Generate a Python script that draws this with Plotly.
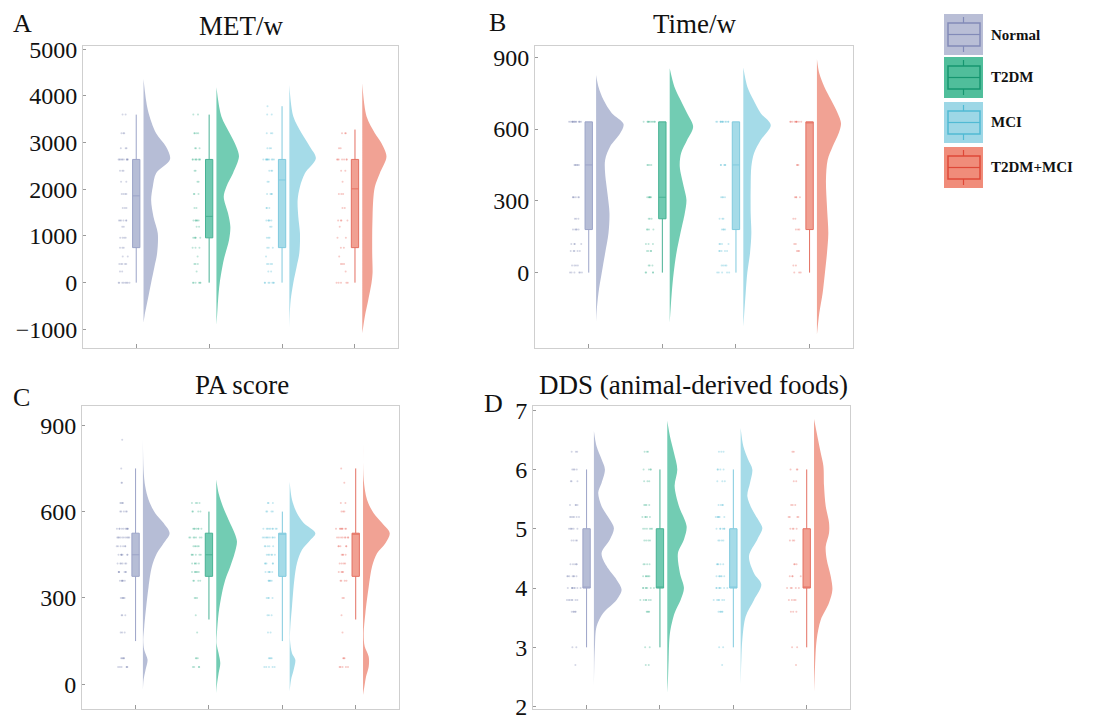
import numpy as np
import plotly.graph_objects as go

W, H = 1099, 720
groups = ["Normal", "T2DM", "MCI", "T2DM+MCI"]
positions = [1, 2, 3, 4]

# ---------------- colours ----------------
violin_fill = ["rgb(182,189,214)", "rgb(114,204,179)", "rgb(165,219,232)", "rgb(241,162,148)"]
box_fill = ["rgb(182,189,214)", "rgb(112,202,177)", "rgb(165,219,232)", "rgb(241,160,146)"]
box_line = ["rgb(156,164,200)", "rgb(72,178,148)", "rgb(128,202,222)", "rgb(228,112,98)"]
dot_color = ["rgb(110,120,170)", "rgb(40,168,130)", "rgb(70,182,210)", "rgb(228,80,70)"]
legend_bg = ["rgb(185,190,214)", "rgb(80,190,155)", "rgb(157,215,230)", "rgb(240,140,122)"]
legend_line = ["rgb(130,138,184)", "rgb(22,150,112)", "rgb(80,186,212)", "rgb(222,72,56)"]

# ---------------- panel A : MET/w ----------------
met_q1 = [750, 960, 750, 750]
met_median = [1860, 1420, 2200, 2010]
met_q3 = [2640, 2640, 2640, 2640]
met_low = [0, 0, 0, 0]
met_high = [3600, 3600, 3780, 3280]

met_vy_normal = [4364, 3700, 3200, 2914, 2643, 2343, 2057, 1771, 1414, 1057, 629, 343, 0, -357, -714, -857]
met_vw_normal = [0, 13, 38, 68, 80, 38, 28, 23, 30, 43, 41, 33, 23, 13, 3, 0]
met_vy_t2dm = [4186, 3557, 3200, 2914, 2700, 2343, 2057, 1843, 1486, 1200, 914, 486, 0, -371, -700, -907]
met_vw_t2dm = [0, 15, 40, 60, 68, 50, 30, 22, 35, 42, 38, 22, 10, 5, 2, 0]
met_vy_mci = [4236, 3557, 3200, 2914, 2664, 2343, 2057, 1771, 1414, 1057, 629, 343, 0, -371, -714, -979]
met_vw_mci = [0, 12, 37, 62, 80, 47, 32, 25, 27, 32, 30, 22, 12, 4, 1, 0]
met_vy_both = [4271, 3557, 3200, 2986, 2700, 2343, 2057, 1771, 1414, 1057, 629, 200, 0, -371, -714, -1086]
met_vw_both = [0, 13, 38, 58, 73, 53, 38, 33, 31, 30, 30, 31, 28, 18, 8, 0]

met_levels = [0, 240, 400, 560, 750, 960, 1200, 1330, 1600, 1900, 2160, 2400, 2640, 2880, 3200, 3600, 3780]
met_counts_normal = [8, 2, 5, 2, 3, 4, 2, 6, 3, 4, 2, 3, 10, 3, 3, 2, 0]
met_counts_t2dm = [6, 1, 3, 1, 3, 5, 2, 6, 2, 3, 2, 2, 8, 3, 4, 2, 0]
met_counts_mci = [7, 2, 4, 1, 3, 3, 2, 5, 3, 4, 2, 3, 10, 3, 3, 2, 1]
met_counts_both = [5, 1, 3, 1, 2, 2, 1, 4, 2, 3, 1, 2, 7, 2, 3, 0, 0]

# ---------------- panel B : Time/w ----------------
time_q1 = [180, 225, 180, 180]
time_median = [450, 315, 450, 630]
time_q3 = [630, 630, 630, 630]
time_low = [0, 0, 0, 0]
time_high = [630, 630, 630, 630]

time_vy_normal = [826, 777, 722, 666, 621, 582, 527, 471, 415, 331, 248, 164, 81, 0, -86, -156, -205]
time_vw_normal = [0, 7, 22, 47, 82, 72, 42, 27, 27, 34, 40, 37, 27, 17, 7, 2, 0]
time_vy_t2dm = [854, 777, 722, 666, 610, 554, 499, 443, 359, 304, 248, 164, 81, 0, -86, -209]
time_vw_t2dm = [0, 14, 32, 52, 70, 52, 34, 30, 42, 50, 45, 32, 20, 12, 6, 0]
time_vy_mci = [857, 777, 722, 666, 617, 554, 499, 443, 359, 248, 164, 81, 0, -86, -226]
time_vw_mci = [0, 12, 30, 52, 82, 52, 32, 24, 22, 22, 24, 20, 12, 7, 0]
time_vy_both = [892, 833, 777, 722, 666, 624, 582, 527, 471, 387, 276, 164, 81, 0, -86, -170, -260]
time_vw_both = [0, 7, 22, 42, 62, 72, 65, 47, 32, 27, 30, 34, 30, 24, 17, 7, 0]

time_levels = [0, 30, 90, 120, 180, 225, 315, 450, 630]
time_counts_normal = [6, 4, 5, 4, 5, 3, 6, 6, 14]
time_counts_t2dm = [4, 3, 4, 3, 4, 3, 6, 4, 10]
time_counts_mci = [5, 4, 5, 4, 4, 3, 4, 5, 12]
time_counts_both = [3, 2, 3, 2, 3, 2, 4, 3, 10]

# ---------------- panel C : PA score ----------------
pa_q1 = [375, 375, 375, 375]
pa_median = [450, 450, 525, 525]
pa_q3 = [525, 525, 525, 525]
pa_low = [150, 225, 150, 225]
pa_high = [750, 600, 600, 750]

pa_vy_normal = [852, 745, 687, 641, 594, 560, 525, 490, 455, 409, 339, 270, 200, 154, 119, 85, 50, 15, -20]
pa_vw_normal = [0, 2, 7, 17, 37, 62, 80, 62, 42, 27, 17, 10, 4, 1, 4, 14, 8, 2, 0]
pa_vy_t2dm = [712, 664, 617, 571, 525, 496, 455, 409, 363, 316, 247, 177, 142, 108, 73, 38, -2, -31]
pa_vw_t2dm = [0, 7, 20, 37, 55, 62, 55, 42, 27, 17, 7, 2, 1, 7, 12, 7, 2, 0]
pa_vy_mci = [704, 641, 594, 560, 525, 501, 467, 421, 363, 270, 200, 154, 108, 85, 50, 15, -25]
pa_vw_mci = [0, 7, 22, 42, 77, 62, 37, 22, 14, 7, 2, 1, 7, 17, 12, 4, 0]
pa_vy_both = [837, 710, 641, 594, 560, 525, 490, 455, 409, 339, 247, 177, 131, 96, 61, 27, -8, -37]
pa_vw_both = [0, 2, 12, 32, 57, 80, 67, 42, 27, 17, 7, 2, 5, 17, 17, 9, 4, 0]

pa_levels = [60, 90, 180, 240, 300, 360, 390, 420, 450, 480, 510, 540, 600, 630, 700, 750, 850]
pa_counts_normal = [6, 5, 3, 3, 5, 6, 6, 6, 7, 6, 10, 10, 5, 4, 2, 1, 1]
pa_counts_t2dm = [4, 3, 1, 1, 3, 4, 6, 5, 6, 5, 7, 7, 4, 4, 0, 0, 0]
pa_counts_mci = [5, 4, 2, 3, 4, 5, 5, 5, 6, 5, 9, 9, 4, 3, 0, 0, 0]
pa_counts_both = [5, 3, 1, 1, 2, 4, 4, 4, 4, 5, 8, 8, 3, 2, 1, 1, 0]

# ---------------- panel D : DDS (animal-derived foods) ----------------
dds_q1 = [4, 4, 4, 4]
dds_median = [4, 4, 4, 4]
dds_q3 = [5, 5, 5, 5]
dds_low = [3, 3, 3, 3]
dds_high = [6, 6, 6, 6]

dds_vy_normal = [6.65, 6.39, 6.17, 6.0, 5.77, 5.61, 5.38, 5.15, 5.01, 4.82, 4.59, 4.37, 4.14, 3.97, 3.80, 3.58, 3.35, 3.01, 2.68, 2.34]
dds_vw_normal = [0, 8, 23, 33, 23, 13, 23, 48, 60, 48, 23, 38, 68, 83, 68, 28, 8, 3, 1, 0]
dds_vy_t2dm = [6.82, 6.56, 6.28, 6.0, 5.72, 5.38, 5.04, 4.82, 4.59, 4.25, 4.0, 3.80, 3.58, 3.24, 2.79, 2.45, 2.23]
dds_vw_t2dm = [0, 8, 20, 30, 22, 35, 58, 50, 32, 38, 50, 40, 22, 8, 4, 2, 0]
dds_vy_mci = [6.70, 6.39, 6.17, 6.0, 5.77, 5.55, 5.32, 5.10, 5.01, 4.82, 4.54, 4.25, 4.06, 3.80, 3.52, 3.13, 2.79, 2.37]
dds_vw_mci = [0, 8, 22, 35, 28, 20, 35, 58, 65, 50, 25, 40, 62, 40, 15, 5, 2, 0]
dds_vy_both = [6.85, 6.56, 6.28, 6.06, 5.72, 5.38, 5.10, 4.93, 4.70, 4.48, 4.20, 3.97, 3.75, 3.46, 3.13, 2.68, 2.25]
dds_vw_both = [0, 10, 20, 28, 30, 35, 45, 45, 35, 38, 50, 55, 45, 20, 8, 3, 0]

dds_levels = [2.7, 3.0, 3.6, 3.8, 4.0, 4.2, 4.4, 4.8, 5.0, 5.2, 5.4, 5.8, 6.0, 6.3]
dds_counts_normal = [1, 2, 5, 7, 8, 7, 5, 4, 6, 6, 4, 3, 4, 3]
dds_counts_t2dm = [2, 2, 4, 6, 7, 6, 4, 4, 6, 5, 4, 3, 4, 3]
dds_counts_mci = [1, 2, 5, 6, 7, 6, 5, 4, 6, 6, 4, 3, 4, 3]
dds_counts_both = [1, 2, 3, 4, 5, 4, 3, 3, 4, 4, 3, 2, 3, 2]

# ---------------- layout constants ----------------
VIOLIN_OFFSET = 0.10
VIOLIN_SCALE = 1 / 220.0
BOX_WIDTH = 0.10
DOT_OFFSET = -0.17
DOT_WIDTH = 0.2
SERIF = "Liberation Serif, Times New Roman, serif"

panels = [
    dict(key="A", title="MET/w", xa="x", ya="y",
         q1=met_q1, med=met_median, q3=met_q3, lo=met_low, hi=met_high,
         vy=[met_vy_normal, met_vy_t2dm, met_vy_mci, met_vy_both],
         vw=[met_vw_normal, met_vw_t2dm, met_vw_mci, met_vw_both],
         levels=met_levels, counts=[met_counts_normal, met_counts_t2dm, met_counts_mci, met_counts_both]),
    dict(key="B", title="Time/w", xa="x2", ya="y2",
         q1=time_q1, med=time_median, q3=time_q3, lo=time_low, hi=time_high,
         vy=[time_vy_normal, time_vy_t2dm, time_vy_mci, time_vy_both],
         vw=[time_vw_normal, time_vw_t2dm, time_vw_mci, time_vw_both],
         levels=time_levels, counts=[time_counts_normal, time_counts_t2dm, time_counts_mci, time_counts_both]),
    dict(key="C", title="PA score", xa="x3", ya="y3",
         q1=pa_q1, med=pa_median, q3=pa_q3, lo=pa_low, hi=pa_high,
         vy=[pa_vy_normal, pa_vy_t2dm, pa_vy_mci, pa_vy_both],
         vw=[pa_vw_normal, pa_vw_t2dm, pa_vw_mci, pa_vw_both],
         levels=pa_levels, counts=[pa_counts_normal, pa_counts_t2dm, pa_counts_mci, pa_counts_both]),
    dict(key="D", title="DDS (animal-derived foods)", xa="x4", ya="y4",
         q1=dds_q1, med=dds_median, q3=dds_q3, lo=dds_low, hi=dds_high,
         vy=[dds_vy_normal, dds_vy_t2dm, dds_vy_mci, dds_vy_both],
         vw=[dds_vw_normal, dds_vw_t2dm, dds_vw_mci, dds_vw_both],
         levels=dds_levels, counts=[dds_counts_normal, dds_counts_t2dm, dds_counts_mci, dds_counts_both]),
]

fig = go.Figure()

for p in panels:
    for i, pos in enumerate(positions):
        # jittered raw points (library jitter)
        vals = np.repeat(p["levels"], p["counts"][i])
        fig.add_trace(go.Box(
            x=[pos + DOT_OFFSET] * len(vals), y=vals, boxpoints="all", jitter=1, pointpos=0,
            width=DOT_WIDTH, fillcolor="rgba(0,0,0,0)", line=dict(color="rgba(0,0,0,0)", width=0),
            marker=dict(size=2, color=dot_color[i], opacity=0.3), whiskerwidth=0,
            xaxis=p["xa"], yaxis=p["ya"], showlegend=False, hoverinfo="skip"))
        # half violin
        base = pos + VIOLIN_OFFSET
        xs = [base + w * VIOLIN_SCALE for w in p["vw"][i]]
        fig.add_trace(go.Scatter(
            x=xs, y=p["vy"][i], mode="lines",
            line=dict(width=0, shape="spline", smoothing=0.9, color=violin_fill[i]),
            fill="toself", fillcolor=violin_fill[i],
            xaxis=p["xa"], yaxis=p["ya"], showlegend=False, hoverinfo="skip"))
        # box
        fig.add_trace(go.Box(
            x=[pos], q1=[p["q1"][i]], median=[p["med"][i]], q3=[p["q3"][i]],
            lowerfence=[p["lo"][i]], upperfence=[p["hi"][i]],
            width=BOX_WIDTH, whiskerwidth=0, boxpoints=False,
            fillcolor=box_fill[i], line=dict(color=box_line[i], width=1),
            xaxis=p["xa"], yaxis=p["ya"], showlegend=False, hoverinfo="skip"))


def px_x(v):
    return v / W


def px_y(v):
    return 1 - v / H


axis_common_x = dict(range=[0.27, 4.59], tickvals=positions, showticklabels=False, automargin=False,
                     ticks="inside", ticklen=4, tickcolor="#9a9a9a", showline=True, mirror=True,
                     linecolor="#cfcfcf", linewidth=1, showgrid=False, zeroline=False)
axis_common_y = dict(ticks="inside", ticklen=3, tickcolor="#9a9a9a", showline=True, mirror=True,
                     linecolor="#cfcfcf", linewidth=1, showgrid=False, zeroline=False, automargin=False,
                     ticklabeloverflow="allow",
                     tickfont=dict(family=SERIF, size=24, color="#111"))

fig.update_layout(
    width=W, height=H, margin=dict(l=0, r=0, t=0, b=0, autoexpand=False),
    paper_bgcolor="white", plot_bgcolor="white", boxmode="overlay", showlegend=False,
    xaxis=dict(domain=[px_x(83), px_x(398)], anchor="y", **axis_common_x),
    yaxis=dict(domain=[px_y(348), px_y(46)], anchor="x", range=[-1400, 5070],
               tickvals=[-1000, 0, 1000, 2000, 3000, 4000, 5000], **axis_common_y),
    xaxis2=dict(domain=[px_x(535), px_x(853)], anchor="y2", **axis_common_x),
    yaxis2=dict(domain=[px_y(348), px_y(46)], anchor="x2", range=[-315, 947],
                tickvals=[0, 300, 600, 900], **axis_common_y),
    xaxis3=dict(domain=[px_x(82), px_x(399)], anchor="y3", **axis_common_x),
    yaxis3=dict(domain=[px_y(709), px_y(406)], anchor="x3", range=[-86, 967],
                tickvals=[0, 300, 600, 900], **axis_common_y),
    xaxis4=dict(domain=[px_x(533), px_x(850)], anchor="y4", **axis_common_x),
    yaxis4=dict(domain=[px_y(709), px_y(406)], anchor="x4", range=[1.96, 7.07],
                tickvals=[2, 3, 4, 5, 6, 7], **axis_common_y),
)

annotations = []
# panel titles and letters
title_pos = {"A": (241, 26), "B": (695, 24), "C": (242, 385), "D": (693, 385)}
letter_pos = {"A": (22, 23), "B": (497, 22), "C": (21, 397), "D": (493, 403)}
for p in panels:
    tx, ty = title_pos[p["key"]]
    annotations.append(dict(x=px_x(tx), y=px_y(ty), xref="paper", yref="paper", text=p["title"],
                            showarrow=False, xanchor="center", yanchor="middle",
                            font=dict(family=SERIF, size=27, color="#111")))
    lx, ly = letter_pos[p["key"]]
    annotations.append(dict(x=px_x(lx), y=px_y(ly), xref="paper", yref="paper", text=p["key"],
                            showarrow=False, xanchor="center", yanchor="middle",
                            font=dict(family=SERIF, size=26, color="#111")))

# legend drawn as decoration
shapes = []
item_tops = [14, 57, 102, 147]
item_h = 41
sx0, sx1 = 944, 983
for i, g in enumerate(groups):
    t = item_tops[i]
    b = t + item_h
    shapes.append(dict(type="rect", xref="paper", yref="paper", x0=px_x(sx0), x1=px_x(sx1),
                       y0=px_y(b), y1=px_y(t), fillcolor=legend_bg[i], line=dict(width=0), layer="above"))
    ix0, ix1 = 948, 980
    iy0, iy1 = t + 9, t + 32
    shapes.append(dict(type="rect", xref="paper", yref="paper", x0=px_x(ix0), x1=px_x(ix1),
                       y0=px_y(iy1), y1=px_y(iy0), fillcolor="rgba(0,0,0,0)",
                       line=dict(width=1.5, color=legend_line[i]), layer="above"))
    cy = (iy0 + iy1) / 2
    shapes.append(dict(type="line", xref="paper", yref="paper", x0=px_x(ix0), x1=px_x(ix1),
                       y0=px_y(cy), y1=px_y(cy), line=dict(width=1.2, color=legend_line[i]), layer="above"))
    cx = (sx0 + sx1) / 2
    shapes.append(dict(type="line", xref="paper", yref="paper", x0=px_x(cx), x1=px_x(cx),
                       y0=px_y(t + 3), y1=px_y(iy0), line=dict(width=1.2, color=legend_line[i]), layer="above"))
    shapes.append(dict(type="line", xref="paper", yref="paper", x0=px_x(cx), x1=px_x(cx),
                       y0=px_y(iy1), y1=px_y(b - 3), line=dict(width=1.2, color=legend_line[i]), layer="above"))
    annotations.append(dict(x=px_x(989), y=px_y(t + item_h / 2), xref="paper", yref="paper",
                            text="<b>" + g + "</b>", showarrow=False, xanchor="left", yanchor="middle",
                            font=dict(family=SERIF, size=15, color="#111")))

fig.update_layout(annotations=annotations, shapes=shapes)
fig.write_html("out.html", config={"displayModeBar": False},
               post_script="document.body.style.margin='0';document.body.style.overflow='hidden';")
